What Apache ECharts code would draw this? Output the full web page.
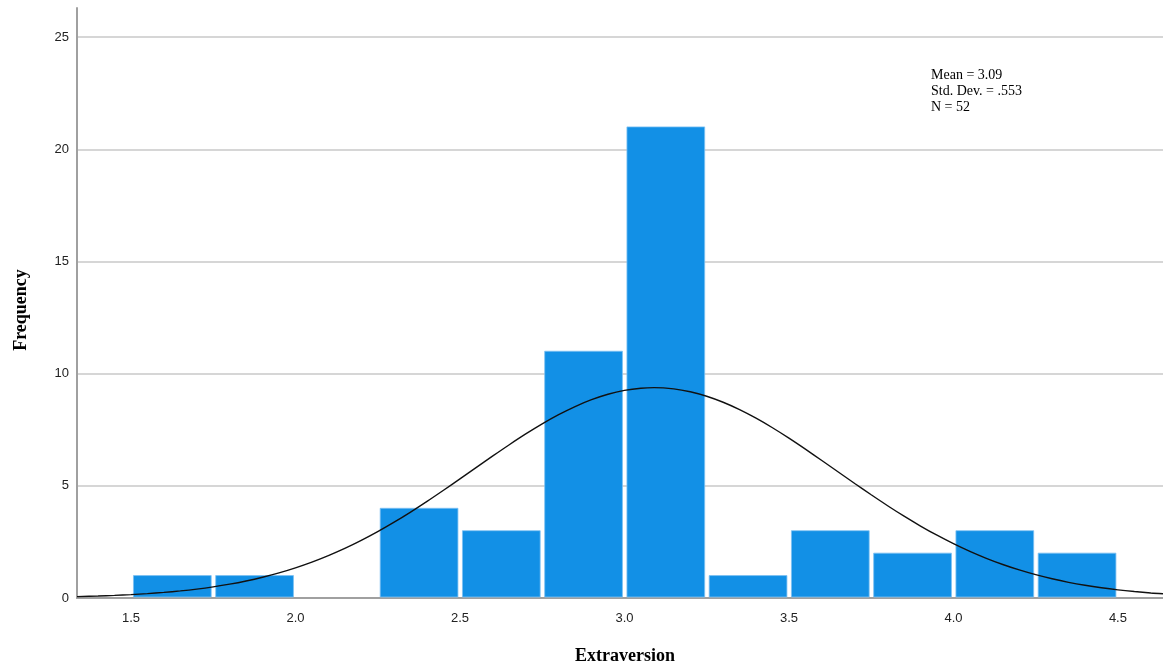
<!DOCTYPE html>
<html>
<head>
<meta charset="utf-8">
<script src="https://cdn.jsdelivr.net/npm/echarts@6/dist/echarts.min.js"></script>
<style>
html,body{margin:0;padding:0;background:#fff;}
#chart{width:1163px;height:667px;}
</style>
</head>
<body>
<div id="chart"></div>
<script>
// Histogram bins (edges) and frequencies
var binStarts = [1.50, 1.75, 2.00, 2.25, 2.50, 2.75, 3.00, 3.25, 3.50, 3.75, 4.00, 4.25];
var binEnds   = [1.75, 2.00, 2.25, 2.50, 2.75, 3.00, 3.25, 3.50, 3.75, 4.00, 4.25, 4.50];
var counts    = [1, 1, 0, 4, 3, 11, 21, 1, 3, 2, 3, 2];

// Normal curve points
var curveX = [1.336, 1.40, 1.45, 1.50, 1.55, 1.60, 1.65, 1.70, 1.75, 1.80, 1.85, 1.90, 1.95, 2.00, 2.05, 2.10, 2.15, 2.20, 2.25, 2.30, 2.35, 2.40, 2.45, 2.50, 2.55, 2.60, 2.65, 2.70, 2.75, 2.80, 2.85, 2.90, 2.95, 3.00, 3.05, 3.09, 3.15, 3.20, 3.25, 3.30, 3.35, 3.40, 3.45, 3.50, 3.55, 3.60, 3.65, 3.70, 3.75, 3.80, 3.85, 3.90, 3.95, 4.00, 4.05, 4.10, 4.15, 4.20, 4.25, 4.30, 4.35, 4.40, 4.45, 4.50, 4.55, 4.60, 4.637];
var curveY = [0.063, 0.088, 0.116, 0.150, 0.194, 0.249, 0.316, 0.398, 0.498, 0.617, 0.759, 0.926, 1.120, 1.345, 1.600, 1.890, 2.211, 2.569, 2.959, 3.380, 3.830, 4.305, 4.801, 5.308, 5.822, 6.333, 6.833, 7.313, 7.763, 8.173, 8.535, 8.841, 9.083, 9.254, 9.353, 9.378, 9.323, 9.194, 8.993, 8.725, 8.397, 8.014, 7.588, 7.125, 6.635, 6.129, 5.616, 5.104, 4.601, 4.113, 3.647, 3.208, 2.798, 2.422, 2.078, 1.769, 1.494, 1.251, 1.039, 0.856, 0.699, 0.567, 0.456, 0.363, 0.288, 0.225, 0.190];

var xTicks = [1.5, 2.0, 2.5, 3.0, 3.5, 4.0, 4.5];
var yTicks = [0, 5, 10, 15, 20, 25];

var statsLines = ['Mean = 3.09', 'Std. Dev. = .553', 'N = 52'];
var xTitle = 'Extraversion';
var yTitle = 'Frequency';

var barData = binStarts.map(function (s, i) { return [s, binEnds[i], counts[i]]; });
var curveData = curveX.map(function (x, i) { return [x, curveY[i]]; });

var chart = echarts.init(document.getElementById('chart'), null, {renderer: 'canvas'});
var labelFont = {fontFamily: 'Liberation Sans', fontSize: 13, color: '#222'};

chart.setOption({
  animation: false,
  backgroundColor: '#fff',
  grid: {left: 77, right: 0, top: 8, bottom: 69, containLabel: false},
  xAxis: {
    type: 'value', min: 1.336, max: 4.637,
    axisLine: {show: true, lineStyle: {color: '#a0a0a0', width: 2}},
    axisTick: {show: false},
    splitLine: {show: false},
    axisLabel: Object.assign({
      customValues: xTicks, margin: 14,
      formatter: function (v) { return v.toFixed(1); }
    }, labelFont)
  },
  yAxis: {
    type: 'value', min: 0, max: 26.3,
    axisLine: {show: true, lineStyle: {color: '#a0a0a0', width: 2}},
    axisTick: {show: false},
    splitLine: {show: false},
    axisLabel: Object.assign({
      customValues: yTicks, margin: 8,
      formatter: function (v) { return String(v); }
    }, labelFont)
  },
  series: [
    {
      type: 'line',
      data: [],
      silent: true,
      z: 0,
      markLine: {
        silent: true,
        z: 0,
        symbol: 'none',
        label: {show: false},
        lineStyle: {color: '#c8c8c8', width: 1.5, type: 'solid'},
        data: yTicks.slice(1).map(function (v) { return {yAxis: v}; })
      }
    },
    {
      type: 'custom',
      data: barData,
      encode: {x: [0, 1], y: 2},
      renderItem: function (params, api) {
        var p0 = api.coord([api.value(0), 0]);
        var p1 = api.coord([api.value(1), api.value(2)]);
        if (api.value(2) <= 0) return null;
        var x0 = p0[0] + 2.5, x1 = p1[0] - 2;
        return {
          type: 'rect',
          shape: {x: x0, y: p1[1], width: x1 - x0, height: p0[1] - p1[1] - 1},
          style: {fill: '#1290e6', stroke: '#7cc0f2', lineWidth: 0.8}
        };
      },
      z: 2
    },
    {
      type: 'line',
      data: curveData,
      smooth: 0.3,
      showSymbol: false,
      lineStyle: {color: '#111', width: 1.4},
      z: 3
    }
  ],
  graphic: [
    {
      type: 'text', left: 931, top: 67,
      style: {text: statsLines.join('\n'), font: '14px "Liberation Serif"', fill: '#000', lineHeight: 16}
    },
    {
      type: 'text', x: 21, y: 310, rotation: Math.PI / 2,
      style: {text: yTitle, font: 'bold 18px "Liberation Serif"', fill: '#000', align: 'center', verticalAlign: 'middle'}
    },
    {
      type: 'text', x: 625, y: 656,
      style: {text: xTitle, font: 'bold 18px "Liberation Serif"', fill: '#000', align: 'center', verticalAlign: 'middle'}
    }
  ]
});
</script>
</body>
</html>
